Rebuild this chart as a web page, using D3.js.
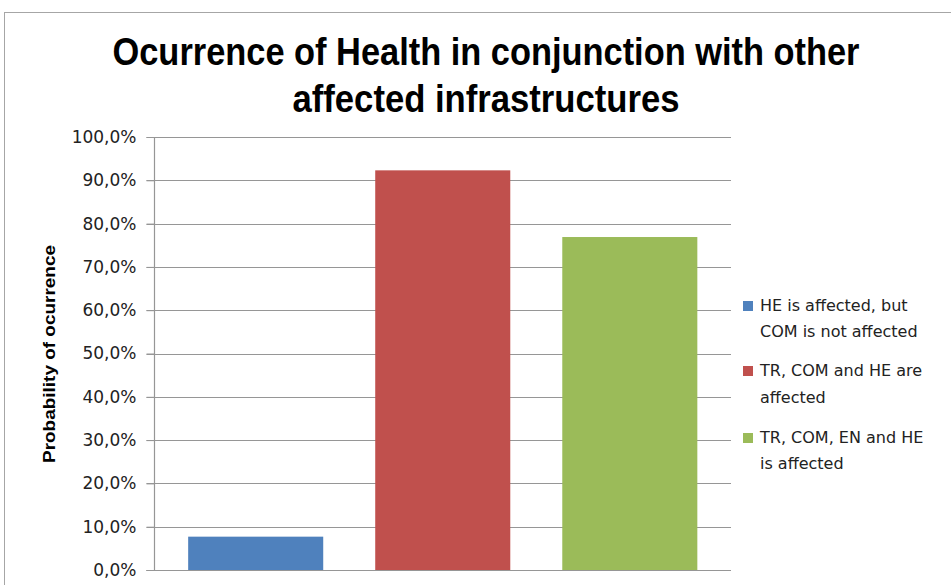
<!DOCTYPE html>
<html><head><meta charset="utf-8">
<script src="https://cdn.jsdelivr.net/npm/d3@7"></script>
<style>body{margin:0;background:#fff}svg{display:block}</style>
</head><body><svg id="c" width="951" height="585"></svg>
<script>
const titleLines = ["Ocurrence of Health in conjunction with other", "affected infrastructures"];
const yAxisTitle = "Probability of ocurrence";
const seriesNames = ["HE is affected, but COM is not affected", "TR, COM and HE are affected", "TR, COM, EN and HE is affected"];
const legendLines = [["HE is affected, but", "COM is not affected"], ["TR, COM and HE are", "affected"], ["TR, COM, EN and HE", "is affected"]];
const seriesValues = [0.077, 0.923, 0.769];
const seriesColors = ["#4f81bd", "#c0504d", "#9bbb59"];
const yTicks = [0, 0.1, 0.2, 0.3, 0.4, 0.5, 0.6, 0.7, 0.8, 0.9, 1.0];

const svg = d3.select("#c");
svg.append("rect").attr("x", 4.5).attr("y", 12.5).attr("width", 1000).attr("height", 700)
  .attr("fill", "#fff").attr("stroke", "#a6a6a6").attr("stroke-width", 1);

const plot = {left: 154.5, right: 731, top: 137, bottom: 570};
const y = d3.scaleLinear().domain([0, 1]).range([plot.bottom, plot.top]);
const x = d3.scaleBand().domain(seriesNames).range([plot.left, plot.right]).paddingInner(0.278).paddingOuter(0.18);

// gridlines
svg.append("g").selectAll("line").data(yTicks).join("line")
  .attr("x1", plot.left - 8).attr("x2", plot.right)
  .attr("y1", d => Math.round(y(d)) + 0.5).attr("y2", d => Math.round(y(d)) + 0.5)
  .attr("stroke", "#969696").attr("stroke-width", 1.2);

// bars
svg.append("g").selectAll("rect").data(seriesNames).join("rect")
  .attr("x", d => x(d)).attr("width", x.bandwidth())
  .attr("y", (d, i) => y(seriesValues[i])).attr("height", (d, i) => y(0) - y(seriesValues[i]))
  .attr("fill", (d, i) => seriesColors[i]);

// y axis
const fmt = d => d3.format(".1f")(d * 100).replace(".", ",") + "%";
const ax = svg.append("g").attr("transform", `translate(${plot.left},0)`)
  .call(d3.axisLeft(y).tickValues(yTicks).tickFormat(fmt).tickSize(8).tickPadding(10));
ax.select(".domain").attr("stroke", "#969696").attr("stroke-width", 1.2).attr("d", `M0,${plot.top}V${plot.bottom + 0.5}`);
ax.selectAll(".tick line").attr("stroke", "#969696");
ax.selectAll(".tick text").attr("font-family", "'DejaVu Sans', sans-serif").attr("font-size", 17).attr("fill", "#222");

// bottom axis line
svg.append("line").attr("x1", plot.left - 8).attr("x2", plot.right)
  .attr("y1", Math.round(y(0)) + 0.5).attr("y2", Math.round(y(0)) + 0.5).attr("stroke", "#969696").attr("stroke-width", 1.2);

// y title
svg.append("text").attr("transform", "translate(55,354) rotate(-90)")
  .attr("text-anchor", "middle").attr("font-family", "'Liberation Sans', sans-serif")
  .attr("font-weight", "bold").attr("font-size", 17).attr("fill", "#000")
  .attr("textLength", 218).attr("lengthAdjust", "spacingAndGlyphs").text(yAxisTitle);

// title
const titleBase = [65, 112], titleW = [747, 387];
titleLines.forEach((t, i) => {
  svg.append("text").attr("x", 486).attr("y", titleBase[i]).attr("text-anchor", "middle")
    .attr("font-family", "'Liberation Sans Narrow', 'Liberation Sans', sans-serif")
    .attr("font-weight", "bold").attr("font-size", 38).attr("fill", "#000")
    .attr("textLength", titleW[i]).attr("lengthAdjust", "spacingAndGlyphs").text(t);
});

// legend
const legBase = [[311, 337], [376, 403], [443, 469]];
const leg = svg.append("g");
legendLines.forEach((lines, i) => {
  leg.append("rect").attr("x", 743).attr("y", legBase[i][0] - 10).attr("width", 10).attr("height", 10)
    .attr("fill", seriesColors[i]);
  lines.forEach((t, j) => {
    leg.append("text").attr("x", 760).attr("y", legBase[i][j])
      .attr("font-family", "'DejaVu Sans', sans-serif").attr("font-size", 16).attr("fill", "#222").text(t);
  });
});
</script></body></html>
